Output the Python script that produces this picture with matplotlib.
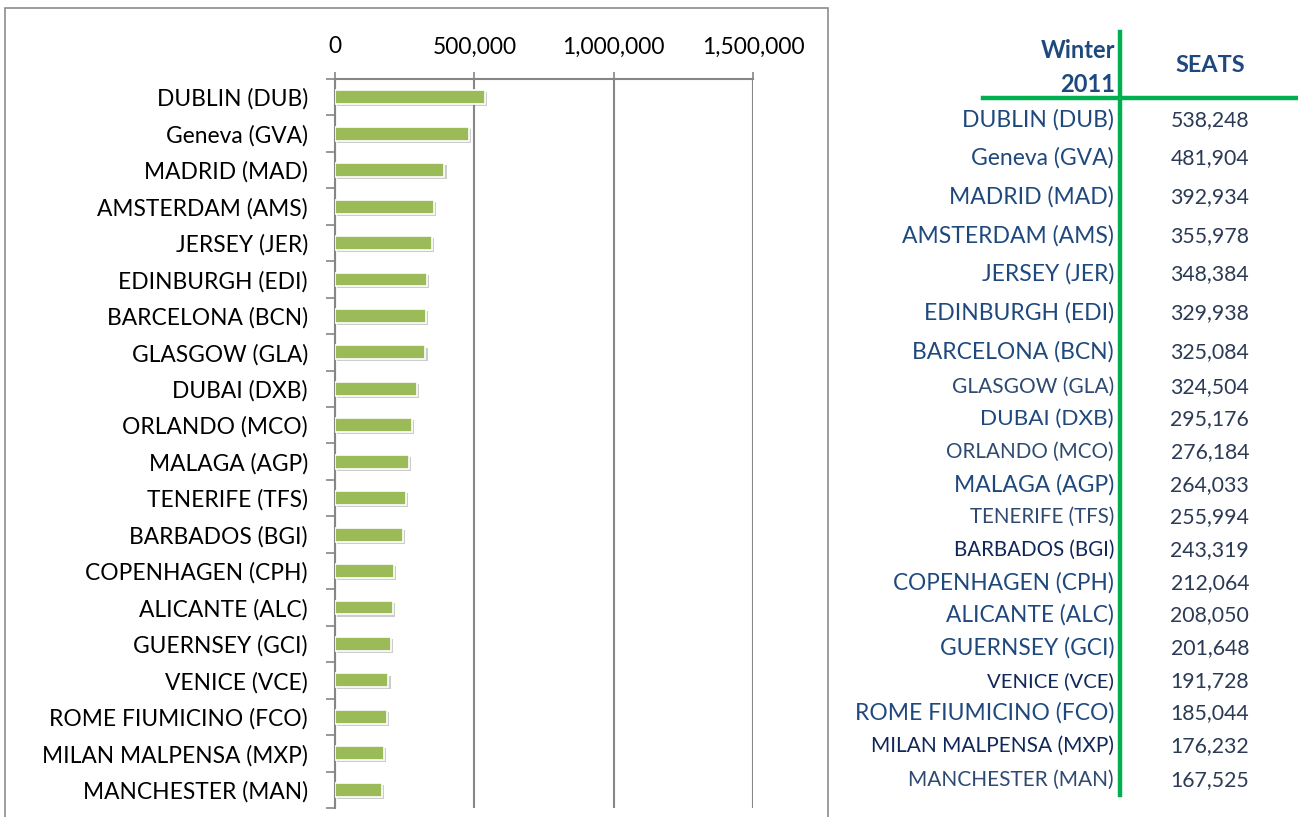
import matplotlib.pyplot as plt
import matplotlib.patheffects as pe
from matplotlib.lines import Line2D
from matplotlib.patches import Rectangle
from matplotlib.ticker import FuncFormatter, FixedLocator

plt.rcParams["font.family"] = ["Lato", "DejaVu Sans"]

# Data

airports = [
    "DUBLIN (DUB)", "Geneva (GVA)", "MADRID (MAD)", "AMSTERDAM (AMS)",
    "JERSEY (JER)", "EDINBURGH (EDI)", "BARCELONA (BCN)", "GLASGOW (GLA)",
    "DUBAI (DXB)", "ORLANDO (MCO)", "MALAGA (AGP)", "TENERIFE (TFS)",
    "BARBADOS (BGI)", "COPENHAGEN (CPH)", "ALICANTE (ALC)", "GUERNSEY (GCI)",
    "VENICE (VCE)", "ROME FIUMICINO (FCO)", "MILAN MALPENSA (MXP)",
    "MANCHESTER (MAN)",
]

seats = [
    538248, 481904, 392934, 355978, 348384, 329938, 325084, 324504,
    295176, 276184, 264033, 255994, 243319, 212064, 208050, 201648,
    191728, 185044, 176232, 167525,
]

x_ticks = [0, 500000, 1000000, 1500000]

# table look (copied table has mixed sizes)
row_y = [120, 158, 197, 236, 274, 313, 352, 387, 419, 452, 485, 517,
         550, 583, 615, 648, 681, 713, 746, 780]
row_size = [16.5, 16.5, 16.5, 16.5, 16.5, 16.5, 16.5, 15, 16.2, 14.9, 16.5, 14.8,
            14.8, 16.3, 16.3, 16.4, 14.6, 16.5, 15, 15]
row_color = ["#1F497D"] * 20
for i in [12, 16, 18]:
    row_color[i] = "#10275A"
for i in [7, 9, 11, 19]:
    row_color[i] = "#2E4A70"

W, H = 1298, 817

fig = plt.figure(figsize=(W / 100, H / 100), dpi=100)

# chart frame

fig.patches.append(
    Rectangle((5 / W, -0.01), (828 - 5) / W, 1.01 - 8 / H,
              transform=fig.transFigure, fill=False,
              edgecolor="#8C8C8C", linewidth=1.2)
)

ax = fig.add_axes([335 / W, 1 - 808 / H, (753 - 335) / W, (808 - 79) / H])

grey = "#868686"

ypos = list(range(len(airports)))

ax.barh(
    ypos, seats, height=0.38, color="#9BBB59",
    edgecolor="white", linewidth=1.2, zorder=3,
    path_effects=[
        pe.SimplePatchShadow(offset=(1.5, -1.5), shadow_rgbFace="#808080", alpha=0.4),
        pe.Normal(),
    ],
)

ax.set_xlim(0, 1500000)
ax.set_ylim(len(airports) - 0.5, -0.5)

ax.xaxis.tick_top()
ax.set_xticks(x_ticks)
ax.xaxis.set_major_formatter(FuncFormatter(lambda v, p: f"{int(v):,}"))
ax.tick_params(axis="x", length=5, width=1.2, color=grey, labelsize=16.4,
               pad=10.5, labelcolor="black")
ax.grid(axis="x", color=grey, linewidth=1.5, zorder=0)

ax.set_yticks(ypos)
ax.set_yticklabels(airports)
ax.tick_params(axis="y", length=0, labelsize=16.4, pad=19.5, labelcolor="black")
ax.yaxis.set_minor_locator(FixedLocator([i - 0.5 for i in range(len(airports) + 1)]))
ax.tick_params(axis="y", which="minor", length=6.5, width=1.2, color=grey)

for side in ["right", "bottom"]:
    ax.spines[side].set_visible(False)
for side in ["left", "top"]:
    ax.spines[side].set_color(grey)
    ax.spines[side].set_linewidth(1.5)

# table on the right

green = "#00B050"

fig.add_artist(Line2D([1120 / W, 1120 / W], [1 - 32 / H, 1 - 795 / H],
                      color=green, linewidth=3.2))
fig.add_artist(Line2D([983 / W, 1.0], [1 - 98 / H, 1 - 98 / H],
                      color=green, linewidth=3.2))

fig.text(1115 / W, 1 - 50 / H, "Winter", ha="right", va="center",
         fontsize=17, fontweight="bold", color="#1F497D")
fig.text(1115 / W, 1 - 85 / H, "2011", ha="right", va="center",
         fontsize=17, fontweight="bold", color="#1F497D")
fig.text(1210 / W, 1 - 66 / H, "SEATS", ha="center", va="center",
         fontsize=16.8, fontweight="bold", color="#1F497D")

for name, val, y, fs, c in zip(airports, seats, row_y, row_size, row_color):
    fig.text(1114 / W, 1 - y / H, name, ha="right", va="center",
             fontsize=fs, color=c)
    fig.text(1249 / W, 1 - y / H, f"{val:,}", ha="right", va="center",
             fontsize=15.3, color="#2B3A55")

fig.savefig("out.png", dpi=100)
